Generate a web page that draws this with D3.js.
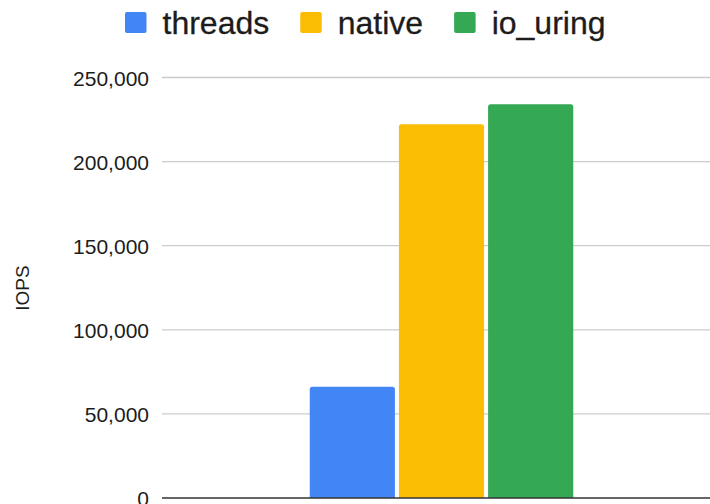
<!DOCTYPE html>
<html>
<head>
<meta charset="utf-8">
<script src="https://cdn.jsdelivr.net/npm/d3@7"></script>
<style>
  html, body { margin: 0; padding: 0; background: #fff; }
  svg { display: block; font-family: "Liberation Sans", Arial, sans-serif; }
</style>
</head>
<body>
<svg id="chart" width="710" height="504"></svg>
<script>
// Benchmark results: IOPS per I/O engine
const categories = ["randread"];
const seriesNames = ["threads", "native", "io_uring"];
const seriesColors = ["#4285F4", "#FBBC04", "#34A853"];
const threadsValues = [66200];
const nativeValues = [222200];
const ioUringValues = [234100];
const yTicks = [0, 50000, 100000, 150000, 200000, 250000];
const yLabel = "IOPS";

const seriesValues = [threadsValues, nativeValues, ioUringValues];
const rows = categories.map((c, i) => ({
  category: c,
  values: seriesNames.map((s, j) => ({ series: s, value: seriesValues[j][i], color: seriesColors[j] }))
}));

const svg = d3.select("#chart");
const plot = { left: 162, right: 721, top: 77.5, bottom: 498 };
const textColor = "#1c1c1c";

const y = d3.scaleLinear().domain([0, 250000]).range([plot.bottom, plot.top]);
const x0 = d3.scaleBand().domain(categories).range([plot.left, plot.right])
  .paddingInner(0).paddingOuter(0.5607);
const x1 = d3.scaleBand().domain(seriesNames).range([0, x0.bandwidth()])
  .paddingInner(0.045).paddingOuter(0);

// gridlines
svg.append("g").selectAll("line")
  .data(yTicks.filter(t => t !== 0))
  .join("line")
  .attr("x1", plot.left).attr("x2", plot.right)
  .attr("y1", d => y(d)).attr("y2", d => y(d))
  .attr("stroke", "#cccccc").attr("stroke-width", 1.3);

// y tick labels
const yAxis = d3.axisLeft(y).tickValues(yTicks).tickSize(0).tickPadding(0)
  .tickFormat(d3.format(","));
const yg = svg.append("g").attr("transform", `translate(149,0)`).call(yAxis);
yg.select(".domain").remove();
yg.selectAll("text")
  .attr("fill", textColor).attr("font-size", 21)
  .attr("font-family", "'Liberation Sans', Arial, sans-serif")
  .attr("dy", "0.36em");

// y axis title
svg.append("text")
  .attr("transform", `translate(28.5,288) rotate(-90)`)
  .attr("text-anchor", "middle")
  .attr("font-size", 19).attr("fill", textColor)
  .text(yLabel);

// bars
const groups = svg.append("g").selectAll("g")
  .data(rows).join("g")
  .attr("transform", d => `translate(${x0(d.category)},0)`);
groups.selectAll("path")
  .data(d => d.values).join("path")
  .attr("fill", d => d.color)
  .attr("d", d => {
    const bx = x1(d.series), bw = x1.bandwidth();
    const top = y(d.value), bot = y(0), r = 2.5;
    return `M${bx},${bot} V${top + r} Q${bx},${top} ${bx + r},${top} H${bx + bw - r} Q${bx + bw},${top} ${bx + bw},${top + r} V${bot} Z`;
  });

// baseline
svg.append("line")
  .attr("x1", plot.left).attr("x2", plot.right)
  .attr("y1", y(0)).attr("y2", y(0))
  .attr("stroke", "#333").attr("stroke-width", 1.5);

// legend
const legendFont = 32;
const legend = svg.append("g").attr("transform", `translate(125,0)`);
let lx = 0;
seriesNames.forEach((s, i) => {
  const g = legend.append("g").attr("transform", `translate(${lx},0)`);
  g.append("rect").attr("x", 0).attr("y", 12).attr("width", 21.5).attr("height", 21)
    .attr("rx", 2).attr("fill", seriesColors[i]);
  const t = g.append("text").attr("x", 37.5).attr("y", 33.5)
    .attr("font-size", legendFont).attr("fill", textColor)
    .attr("stroke", textColor).attr("stroke-width", 0.3)
    .text(s);
  const w = t.node().getComputedTextLength();
  lx += 37.5 + w + 31;
});
</script>
</body>
</html>
